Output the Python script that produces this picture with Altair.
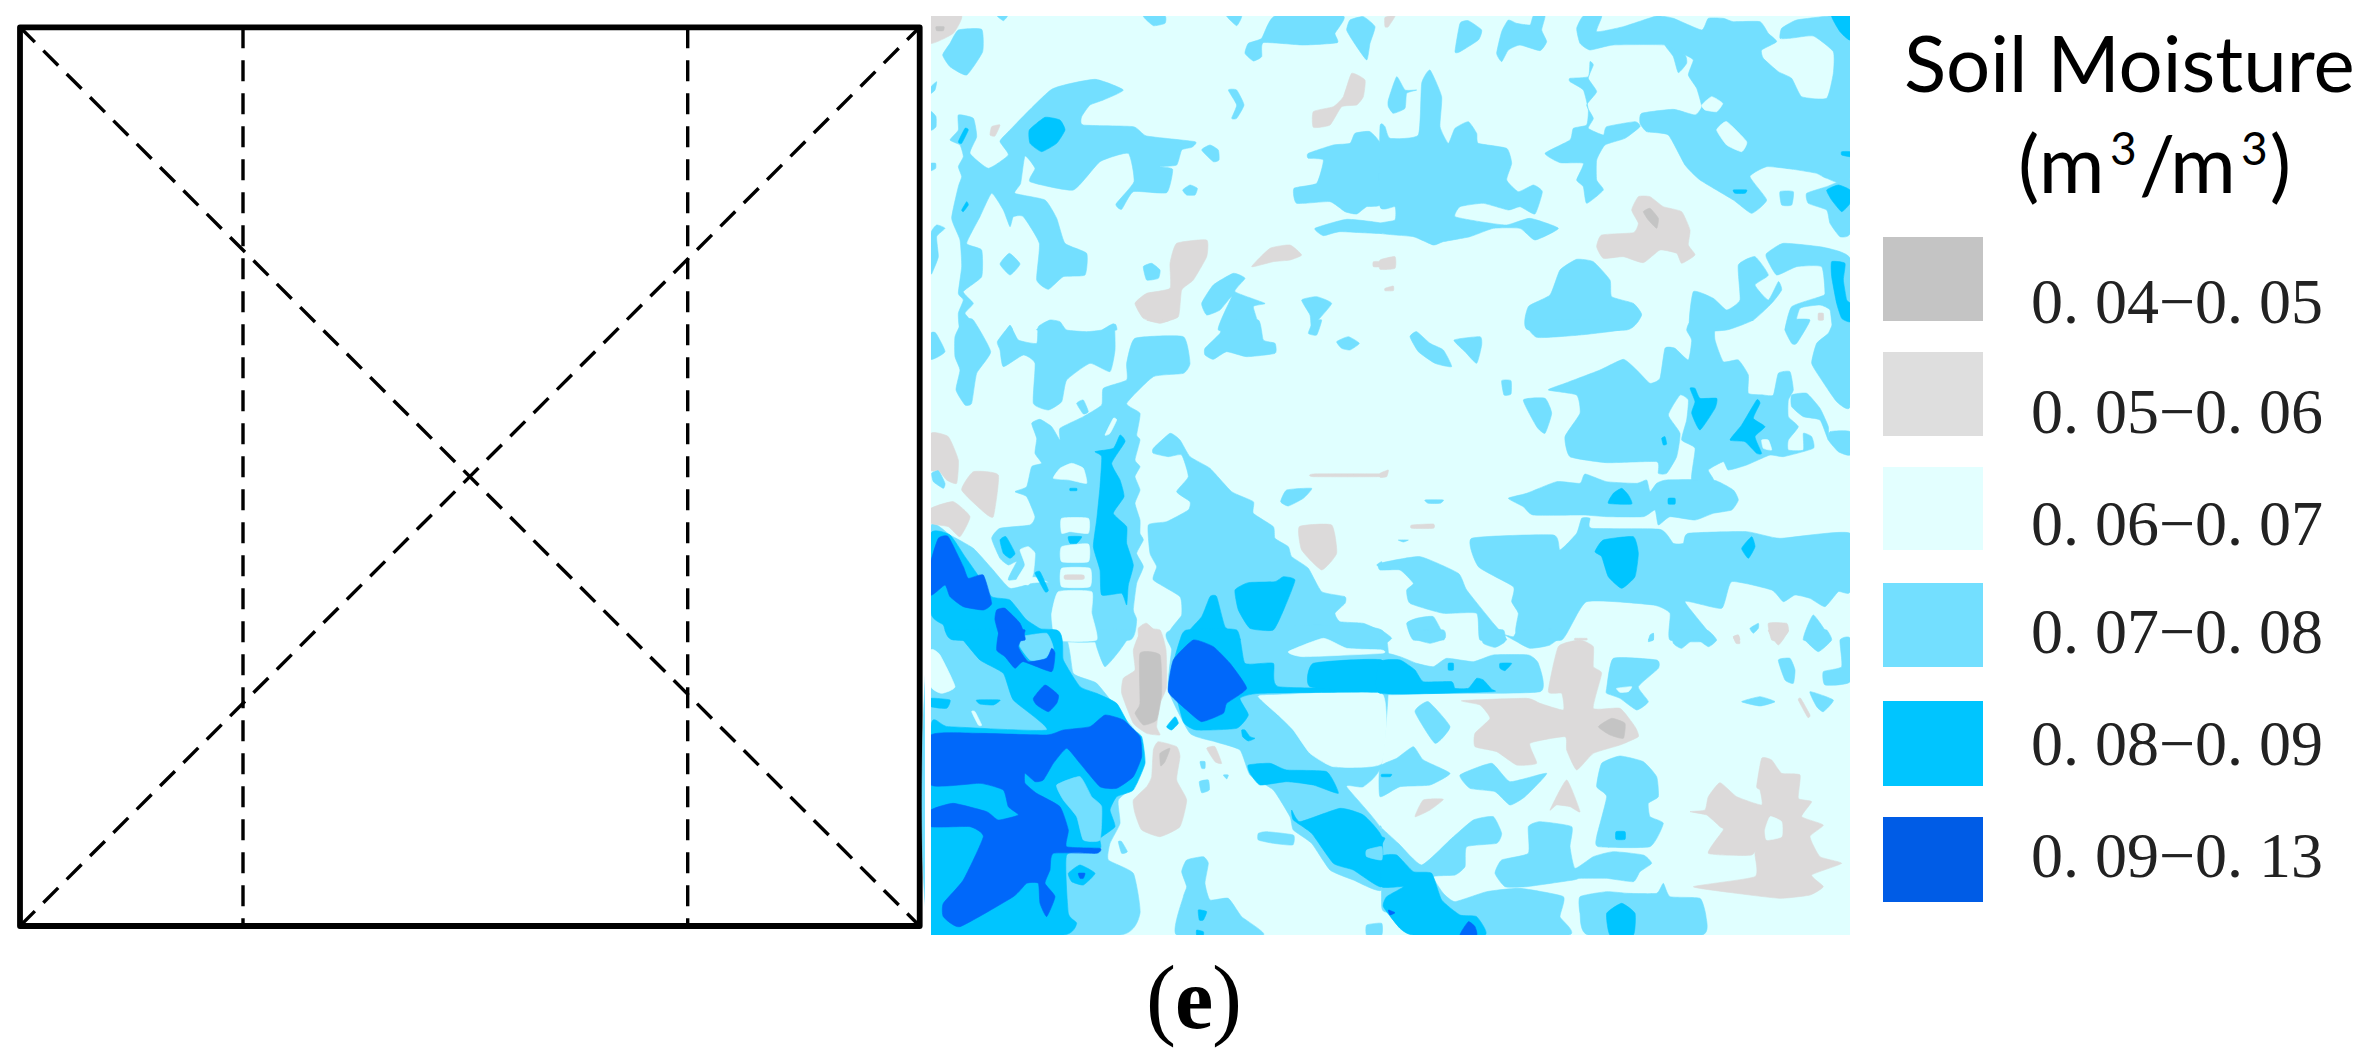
import altair as alt
import pandas as pd

# ---- legend / labels ----
CLASS_LABELS = ["0. 04\u22120. 05", "0. 05\u22120. 06", "0. 06\u22120. 07", "0. 07\u22120. 08", "0. 08\u22120. 09", "0. 09\u22120. 13"]
LEGEND_COLORS = ["#c4c4c4", "#dedede", "#e3ffff", "#73dfff", "#00c5ff", "#005ce6"]
SWATCH_TOP = [237, 352, 467, 583, 701, 817]
SWATCH_BOTTOM = [321, 436, 550, 667, 786, 902]
LABEL_BASE = [323, 433, 545, 653, 765, 877]

LAYER_COLORS = {"L": "#73dfff", "W": "#e0ffff", "M": "#00c5ff", "L2": "#73dfff", "D": "#0068fa",
                "G": "#dcdada", "K": "#c4c4c4", "W2": "#e0ffff"}

# ---- contour regions, traced per map tile (tile-local units: 1/3 px) ----
TILE_A = (920, 10, {
 "L": [
  [(115,60),(185,58),(188,125),(140,195),(90,170),(68,135),(90,100)],
  [(232,18),(262,18),(250,32)],
  [(670,18),(735,18),(735,40),(700,47)],
  [(920,18),(965,18),(950,47)],
  [(1065,18),(1270,18),(1245,70),(1252,98),(1150,105),(1030,98),(1025,140),(1000,153),(975,130),(985,100),(1025,85)],
  [(1290,30),(1330,20),(1365,50),(1350,100),(1340,150),(1300,95),(1280,60)],
  [(33,230),(50,215),(45,240),(33,250)],
  [(33,305),(48,320),(48,350),(33,360)],
  [(33,460),(47,460),(47,475),(33,482)],
  [(395,238),(525,208),(610,240),(550,270),(510,285),(485,320),(490,345),(640,350),(680,378),(825,395),(815,412),(785,420),(770,465),(720,470),(758,478),(740,548),(640,545),(605,598),(588,582),(642,515),(625,430),(540,455),(460,540),(330,515),(345,475),(315,438),(302,520),(285,550),(375,570),(410,625),(435,700),(500,730),(495,795),(430,800),(385,838),(350,810),(358,700),(310,620),(280,620),(270,650),(250,600),(215,550),(180,620),(140,700),(185,720),(185,800),(130,845),(160,880),(135,910),(165,945),(160,960),(120,960),(115,910),(130,870),(115,850),(125,770),(120,690),(95,625),(115,530),(125,500),(115,470),(130,440),(120,405),(90,390),(115,360),(115,315),(160,325),(170,380),(150,430),(205,475),(265,435),(240,395),(260,370)],
  [(845,420),(870,405),(895,420),(897,450),(880,455)],
  [(788,540),(810,525),(832,535),(825,555),(800,555)],
  [(925,240),(950,240),(972,285),(950,325),(935,325),(950,285)],
  [(1165,430),(1240,405),(1290,400),(1305,370),(1350,365),(1380,410),(1380,580),(1340,590),(1310,612),(1275,605),(1230,575),(1130,580),(1122,535),(1190,520),(1210,450),(1165,445)],
  [(1185,655),(1280,628),(1380,640),(1380,670),(1260,665),(1210,677)],
  [(33,670),(50,645),(75,655),(50,680),(55,740),(40,780),(33,790)],
  [(240,762),(268,730),(300,762),(270,795)],
  [(670,770),(695,760),(720,780),(715,805),(680,810)],
  [(845,880),(880,825),(940,790),(975,805),(945,845),(1035,880),(1000,890),(1015,960),(895,960),(935,860),(900,900),(860,915)],
  [(1145,870),(1190,860),(1235,880),(1195,930),(1175,960),(1170,915)],
  [(350,960),(385,935),(430,960)],
  [(550,960),(585,942),(590,960)],
  [(260,960),(270,945),(278,960)],
 ],
 "M": [
  [(375,322),(420,330),(435,360),(410,400),(365,425),(330,400),(328,360)],
  [(135,355),(145,360),(125,400),(115,395)],
  [(140,575),(145,585),(130,605),(125,600)],
 ],
 "G": [
  [(33,18),(125,18),(100,70),(33,100)],
  [(215,350),(240,345),(225,378),(210,375)],
  [(1180,305),(1240,290),(1270,260),(1295,190),(1335,210),(1330,260),(1310,285),(1265,290),(1230,345),(1180,352)],
  [(770,700),(860,690),(860,740),(820,810),(785,840),(775,920),(720,938),(670,925),(645,880),(680,850),(750,835),(750,760)],
  [(995,770),(1050,715),(1110,705),(1145,735),(1110,750),(1060,755)],
  [(1360,755),(1380,755),(1380,770),(1360,770)],
 ],
 "K": [[(48,50),(72,50),(70,62),(50,62)]],
})

TILE_B = (1380, 10, {
 "L": [
  [(225,125),(240,40),(265,32),(305,60),(295,90),(240,125)],
  [(350,130),(365,65),(385,30),(410,40),(450,45),(460,18),(495,18),(485,60),(500,95),(480,122),(420,105),(385,120),(365,155)],
  [(590,55),(610,18),(665,18),(650,65),(730,50),(830,18),(880,25),(965,60),(985,25),(1030,25),(1060,35),(1140,35),(1165,70),(1190,95),(1145,120),(1150,145),(1195,185),(1235,205),(1265,260),(1340,265),(1360,190),(1360,125),(1300,78),(1230,85),(1200,85),(1205,55),(1250,30),(1350,18),(1410,18),(1410,505),(1340,505),(1310,490),(1240,478),(1160,470),(1110,500),(1160,570),(1115,610),(1060,570),(960,510),(915,465),(865,375),(800,365),(780,340),(785,310),(880,298),(945,315),(965,290),(950,235),(925,195),(940,150),(915,135),(885,130),(855,105),(700,105),(630,120),(600,100)],
  [(855,105),(915,135),(920,160),(895,188),(880,140)],
  [(1200,545),(1240,545),(1235,585),(1205,585)],
  [(1280,550),(1340,530),(1410,510),(1410,670),(1380,680),(1350,640),(1340,600),(1285,580)],
  [(570,205),(625,200),(630,155),(640,165),(625,205),(650,245),(620,285),(640,325),(625,355),(670,375),(680,350),(765,335),(780,350),(735,385),(675,405),(650,450),(650,510),(670,540),(620,580),(610,530),(590,510),(610,460),(540,458),(495,430),(570,390),(580,355),(620,345),(625,300),(610,240),(570,215)],
  [(0,350),(15,350),(30,385),(115,375),(125,220),(150,180),(185,260),(180,350),(205,400),(225,355),(265,335),(290,370),(295,400),(380,415),(395,460),(380,510),(415,545),(460,525),(487,545),(465,612),(420,590),(385,600),(310,580),(240,590),(225,620),(300,635),(380,645),(450,625),(535,655),(465,690),(420,655),(340,655),(270,680),(190,695),(160,705),(100,680),(0,670),(0,640),(45,630),(45,590),(0,590)],
  [(25,270),(50,200),(75,240),(110,240),(80,250),(75,295),(40,310),(25,290)],
  [(445,960),(445,890),(510,855),(540,780),(590,748),(640,755),(690,810),(695,860),(760,880),(785,915),(740,960)],
  [(930,960),(940,845),(1000,865),(1040,900),(1080,870),(1075,765),(1125,740),(1165,795),(1125,825),(1165,870),(1195,815),(1205,840),(1175,880),(1120,930),(1040,960)],
  [(1160,730),(1210,700),(1330,712),(1410,745),(1410,960),(1360,960),(1350,900),(1320,885),(1260,895),(1240,960),(1215,960),(1235,890),(1320,860),(1335,850),(1325,770),(1250,770),(1190,795),(1160,745)],
 ],
 "W": [
  [(965,285),(995,260),(1028,280),(1010,305),(975,300)],
  [(1010,360),(1040,335),(1100,395),(1085,425),(1040,405)],
 ],
 "M": [
  [(1355,18),(1410,18),(1410,90),(1380,65)],
  [(1385,425),(1410,425),(1410,440),(1385,435)],
  [(1060,540),(1100,540),(1095,550),(1065,550)],
  [(1340,540),(1375,525),(1410,540),(1410,580),(1385,605),(1355,570)],
  [(1355,755),(1395,760),(1390,810),(1400,870),(1410,880),(1410,935),(1385,925),(1370,880),(1355,800)],
 ],
 "G": [
  [(755,600),(775,560),(810,560),(850,590),(905,605),(930,660),(925,705),(945,735),(905,760),(890,730),(840,720),(790,758),(730,740),(670,745),(650,710),(665,675),(760,668),(775,640)],
  [(0,750),(45,740),(45,775),(0,778)],
  [(15,835),(40,828),(40,842),(15,842)],
  [(15,22),(45,18),(25,50),(15,50)],
  [(1315,910),(1330,910),(1330,930),(1315,930)],
 ],
 "K": [[(790,605),(810,595),(835,625),(830,655),(805,630)]],
})

TILE_C = (920, 320, {
 "L": [
  [(33,40),(48,40),(75,95),(33,118)],
  [(105,50),(130,0),(160,0),(212,95),(170,160),(155,250),(135,255),(108,210),(120,150),(105,110)],
  [(232,65),(270,18),(295,60),(350,70),(355,20),(390,0),(420,5),(440,30),(500,35),(545,30),(582,12),(585,90),(570,155),(510,130),(440,180),(425,245),(385,270),(340,250),(345,130),(310,105),(250,140),(240,90)],
  [(470,250),(490,240),(505,275),(490,282)],
  [(33,618),(90,645),(160,685),(215,745),(270,805),(340,790),(420,790),(395,885),(410,960),(33,960)],
  [(335,310),(360,298),(395,320),(420,360),(420,325),(490,290),(545,255),(550,205),(620,180),(620,130),(645,55),(790,50),(810,130),(790,160),(700,170),(620,250),(660,280),(650,345),(660,360),(645,420),(660,440),(645,470),(660,510),(645,550),(660,600),(660,640),(670,660),(650,700),(670,740),(650,790),(640,870),(650,900),(630,960),(410,960),(400,800),(345,770),(265,780),(290,725),(265,735),(240,715),(215,655),(240,625),(330,615),(345,590),(320,530),(285,515),(320,500),(335,440),(365,430),(345,400),(350,355)],
  [(700,385),(750,340),(780,360),(810,410),(870,445),(935,515),(1000,545),(1000,580),(1060,620),(1065,655),(1105,680),(1115,710),(1165,745),(1205,815),(1275,830),(1275,850),(1245,880),(1260,905),(1330,910),(1380,935),(1380,960),(760,960),(785,885),(780,830),(700,780),(710,740),(690,700),(685,615),(740,605),(805,570),(810,545),(770,515),(805,470),(785,405),(745,410),(700,400)],
  [(855,85),(900,40),(915,0),(1015,0),(1030,60),(1065,70),(1065,100),(980,110),(920,95),(880,118),(855,105)],
  [(1165,40),(1180,5),(1205,0),(1190,45)],
  [(1250,65),(1285,50),(1318,70),(1290,90),(1265,85)],
  [(1082,545),(1100,510),(1175,505),(1150,535),(1105,558)],
  [(35,460),(55,450),(75,490),(70,505),(40,485)],
  [(1370,735),(1380,725),(1380,745)],
 ],
 "W": [
  [(425,595),(505,595),(505,640),(450,635),(425,640)],
  [(425,680),(505,672),(505,725),(425,725)],
  [(425,745),(510,745),(510,800),(425,800)],
  [(415,815),(515,815),(515,880),(530,960),(410,960),(395,885)],
  [(400,475),(420,445),(455,430),(490,445),(500,490),(450,480)],
  [(555,345),(580,295),(590,300),(570,340)],
  [(300,690),(325,680),(345,700),(340,760),(325,795),(290,780),(315,735)],
 ],
 "M": [
  [(525,395),(580,385),(600,345),(615,365),(575,430),(600,480),(612,530),(580,580),(620,620),(620,670),(640,735),(625,795),(620,855),(605,820),(545,825),(540,750),(520,680),(530,600),(540,500),(545,410)],
  [(240,660),(258,650),(285,700),(270,715),(250,700)],
  [(345,760),(360,755),(385,810),(375,815)],
  [(450,505),(470,505),(470,512),(450,512)],
  [(445,650),(485,650),(470,670),(450,670)],
  [(33,640),(90,645),(135,710),(170,760),(215,830),(270,840),(320,900),(390,945),(395,960),(100,960),(70,915),(33,880)],
  [(945,810),(985,788),(1065,785),(1090,770),(1125,780),(1095,860),(1060,930),(990,925),(955,870)],
  [(790,960),(845,890),(870,830),(890,830),(915,920),(960,960)],
 ],
 "D": [
  [(33,725),(55,655),(85,650),(130,740),(145,775),(190,765),(215,850),(190,870),(130,860),(90,830),(75,795),(33,825)],
  [(230,870),(255,865),(300,910),(315,960),(245,960),(225,900)],
 ],
 "G": [
  [(435,765),(490,765),(490,778),(435,778)],
  [(33,340),(85,350),(115,420),(110,490),(80,480),(55,450),(33,450)],
  [(33,565),(100,545),(150,590),(120,650),(85,620),(33,610)],
  [(125,510),(160,455),(235,465),(220,590),(190,575)],
  [(1138,620),(1235,615),(1250,700),(1205,750),(1145,690)],
  [(1180,462),(1380,462),(1380,470),(1180,470)],
  [(655,925),(680,910),(730,960),(660,960)],
  [(680,0),(750,0),(720,10)],
 ],
})

TILE_D = (1380, 320, {
 "L": [
  [(445,0),(770,0),(720,30),(600,45),(470,52)],
  [(90,50),(110,35),(150,70),(190,90),(215,140),(165,130),(115,95)],
  [(222,60),(300,50),(305,75),(290,130),(255,95)],
  [(365,182),(393,182),(393,222),(372,225)],
  [(555,350),(600,280),(590,225),(505,210),(555,190),(660,150),(730,118),(770,150),(810,190),(840,175),(855,85),(885,85),(925,120),(935,60),(920,30),(940,0),(1120,0),(1010,20),(1005,60),(1030,125),(1075,120),(1105,165),(1105,220),(1150,225),(1180,225),(1195,160),(1230,155),(1240,210),(1225,240),(1225,290),(1255,320),(1225,360),(1225,390),(1270,390),(1270,340),(1295,350),(1300,385),(1210,410),(1170,405),(1100,435),(1045,450),(1030,425),(985,450),(1000,480),(935,480),(945,385),(905,360),(920,300),(925,240),(900,225),(865,285),(900,340),(890,410),(860,460),(835,460),(830,425),(680,428),(570,410)],
  [(385,535),(440,520),(530,485),(600,490),(615,462),(680,485),(770,490),(800,480),(810,515),(830,490),(860,480),(1000,480),(1060,510),(1075,540),(1055,570),(1000,580),(945,600),(870,590),(835,615),(825,570),(790,590),(680,590),(610,585),(460,585),(430,560)],
  [(430,240),(495,235),(515,280),(495,340),(470,320)],
  [(1215,30),(1230,0),(1290,0),(1250,70),(1235,70)],
  [(1295,130),(1310,70),(1345,40),(1365,0),(1410,0),(1410,260),(1370,245),(1325,180)],
  [(1235,225),(1280,220),(1320,265),(1345,320),(1345,360),(1350,335),(1410,335),(1410,405),(1375,395),(1345,360),(1320,300),(1270,290),(1235,260)],
  [(275,655),(520,645),(540,690),(590,640),(605,595),(630,595),(635,625),(840,628),(880,670),(910,670),(925,640),(1100,635),(1200,655),(1410,640),(1410,815),(1375,815),(1335,860),(1290,835),(1245,825),(1210,845),(1175,810),(1055,785),(1025,865),(915,845),(1000,960),(870,960),(870,880),(820,855),(620,845),(545,960),(410,945),(415,880),(395,845),(400,800),(295,740)],
  [(0,730),(120,710),(235,760),(260,810),(340,910),(380,960),(300,960),(290,880),(190,880),(90,850),(80,810),(100,790),(60,750),(0,750)],
  [(80,910),(110,895),(160,890),(190,945),(190,960),(100,960)],
  [(1270,960),(1300,885),(1350,960)],
  [(1110,925),(1135,910),(1135,925),(1120,940)],
  [(805,960),(820,940),(820,960)],
  [(135,540),(190,540),(180,550),(145,550)],
  [(55,660),(85,660),(70,666)],
 ],
 "W": [[(1145,360),(1165,360),(1175,390),(1150,385)]],
 "M": [
  [(930,205),(945,205),(960,235),(1010,235),(1005,265),(960,330),(935,280),(945,245)],
  [(1050,360),(1085,315),(1130,240),(1140,250),(1120,295),(1155,320),(1125,350),(1145,400),(1130,400),(1095,365)],
  [(685,550),(700,520),(725,505),(745,525),(755,552)],
  [(865,535),(885,535),(885,552),(865,552)],
  [(845,355),(855,350),(860,372),(850,375)],
  [(645,695),(670,660),(760,650),(775,700),(765,770),(725,805),(685,770),(665,710)],
  [(1085,685),(1115,650),(1125,680),(1105,715)],
 ],
 "G": [
  [(1165,910),(1220,910),(1225,935),(1200,960),(1175,960)],
  [(1060,950),(1075,945),(1080,960),(1065,960)],
  [(0,460),(25,450),(20,470),(0,472)],
  [(95,615),(160,612),(160,625),(95,625)],
  [(585,955),(620,955),(620,960),(585,960)],
 ],
})

TILE_E = (920, 630, {
 "L": [
  [(33,0),(420,0),(460,130),(530,160),(610,260),(650,310),(660,400),(650,460),(595,510),(600,580),(570,640),(565,690),(640,730),(660,850),(600,915),(33,915)],
  [(525,0),(635,0),(600,60),(555,110),(530,50)],
  [(760,0),(1380,0),(1380,400),(1330,470),(1280,470),(1380,600),(1380,780),(1300,750),(1230,720),(1175,640),(1120,600),(1110,560),(1060,480),(990,435),(960,360),(885,335),(810,310),(745,180),(755,60)],
  [(1015,610),(1040,605),(1120,615),(1118,645),(1060,640),(1015,630)],
  [(785,725),(800,690),(850,680),(865,700),(855,760),(870,810),(925,805),(965,860),(1030,915),(770,915),(790,800),(800,770)],
  [(1340,885),(1380,880),(1380,915),(1340,915)],
  [(595,635),(605,635),(622,665),(605,670)],
  [(840,395),(855,395),(855,415),(845,415)],
  [(838,455),(865,450),(868,480),(845,488)],
  [(910,435),(925,435),(920,447)],
 ],
 "W": [
  [(33,60),(60,75),(105,170),(65,190),(33,170)],
  [(155,245),(165,245),(185,285),(175,285)],
  [(1105,65),(1210,25),(1280,55),(1380,60),(1380,70),(1150,80)],
  [(1015,200),(1060,195),(1380,190),(1380,400),(1240,410),(1170,370),(1120,300),(1080,260)],
 ],
 "M": [
  [(80,0),(410,0),(430,90),(480,170),(530,190),(590,220),(630,290),(665,320),(675,400),(640,480),(590,500),(570,540),(585,590),(540,625),(540,655),(440,675),(445,850),(470,880),(430,915),(33,915),(33,290),(85,290),(380,300),(280,210),(250,130),(180,90),(120,20)],
  [(33,205),(90,210),(80,235),(33,230)],
  [(170,210),(240,210),(220,225),(180,222)],
  [(445,730),(480,705),(525,730),(490,765),(455,755)],
  [(755,130),(780,30),(800,0),(950,0),(975,100),(1060,100),(1075,170),(1380,175),(1380,185),(1020,190),(960,205),(985,255),(950,295),(830,300),(790,275)],
  [(1180,100),(1380,90),(1380,185),(1170,170)],
  [(740,290),(765,260),(775,280),(755,300)],
  [(985,405),(1050,400),(1100,420),(1220,425),(1255,490),(1180,465),(1100,455),(1020,465),(990,430)],
  [(1115,540),(1140,575),(1260,535),(1330,555),(1380,620),(1380,770),(1300,720),(1240,700),(1175,610),(1120,570)],
  [(965,300),(975,300),(990,320),(1005,325),(985,333),(968,320)],
  [(835,840),(860,845),(850,870),(838,870)],
  [(830,900),(850,905),(850,915),(830,915)],
 ],
 "L2": [
  [(410,465),(480,440),(515,500),(545,530),(540,630),(490,630),(470,560),(430,510)],
  [(305,20),(380,10),(400,55),(370,90),(330,90),(300,50)],
  [(1340,660),(1380,650),(1380,690),(1340,680)],
 ],
 "D": [
  [(33,315),(180,310),(380,315),(430,300),(510,290),(555,255),(610,270),(660,320),(665,380),(640,440),(590,475),(540,470),(480,400),(440,355),(400,400),(370,450),(345,455),(315,430),(315,460),(350,490),(420,530),(445,600),(440,650),(540,655),(530,670),(400,670),(390,720),(375,760),(405,800),(380,860),(360,820),(355,760),(320,760),(280,800),(120,890),(70,860),(70,820),(130,750),(190,620),(150,590),(33,590),(33,540),(100,520),(200,545),(235,570),(295,555),(265,530),(250,480),(180,460),(33,465)],
  [(240,0),(315,0),(295,50),(325,95),(380,85),(395,55),(405,70),(395,125),(310,95),(285,115),(255,80),(230,60)],
  [(340,205),(375,165),(415,195),(410,220),(385,245),(350,225)],
  [(760,90),(820,30),(880,50),(930,100),(980,175),(920,220),(910,250),(845,275),(800,240),(745,185)],
  [(475,730),(495,730),(490,745),(480,745)],
 ],
 "G": [
  [(665,0),(720,0),(738,60),(740,170),(720,220),(710,290),(720,315),(680,310),(640,280),(605,190),(610,145),(645,120),(640,60)],
  [(715,335),(770,350),(780,380),(770,450),(800,510),(780,590),(720,620),(665,600),(645,550),(640,510),(680,470),(695,440),(700,360)],
  [(860,355),(885,350),(905,400),(885,395)],
 ],
 "K": [
  [(660,70),(720,75),(725,190),(710,270),(670,285),(645,250),(660,220)],
  [(720,370),(750,355),(735,395),(722,408)],
 ],
})

TILE_F = (1380, 630, {
 "L": [
  [(90,0),(190,0),(195,25),(150,40),(100,25)],
  [(0,0),(35,25),(0,50)],
  [(300,0),(370,0),(375,35),(345,52),(310,40)],
  [(375,15),(400,20),(420,0),(560,0),(510,45),(450,55),(410,35)],
  [(880,0),(980,0),(1010,30),(985,50),(945,25),(905,55),(880,40)],
  [(1290,25),(1310,0),(1340,0),(1355,30),(1315,65),(1275,30)],
  [(810,15),(820,10),(820,30),(805,35)],
  [(1195,90),(1230,85),(1245,120),(1240,160),(1215,150)],
  [(1380,30),(1410,25),(1410,155),(1335,165),(1330,125),(1385,110)],
  [(1085,215),(1140,200),(1185,215),(1140,228)],
  [(1290,185),(1360,210),(1330,245),(1310,230)],
  [(700,85),(830,90),(835,115),(775,170),(805,215),(770,240),(720,205),(680,190),(680,175)],
  [(0,70),(60,80),(110,100),(160,110),(200,85),(280,95),(340,75),(445,75),(475,100),(480,185),(150,190),(0,190)],
  [(105,245),(145,215),(210,290),(165,340)],
  [(0,410),(50,385),(100,350),(130,390),(210,430),(150,465),(60,470),(0,500)],
  [(240,435),(335,400),(390,455),(500,430),(435,500),(390,525),(345,485),(270,475)],
  [(650,470),(665,400),(720,378),(790,395),(830,440),(835,500),(805,520),(810,560),(850,580),(810,650),(655,650),(650,620),(680,500)],
  [(0,590),(55,640),(125,705),(215,625),(280,570),(340,560),(365,610),(350,640),(260,650),(255,710),(225,735),(160,740),(190,790),(225,815),(320,785),(420,775),(550,800),(540,860),(565,915),(100,915),(25,850),(5,830),(5,600)],
  [(345,730),(365,690),(445,670),(445,590),(480,575),(575,590),(570,650),(585,715),(640,680),(700,665),(790,675),(815,700),(780,725),(760,755),(680,745),(600,745),(580,750),(440,770),(375,770)],
  [(600,800),(680,785),(745,790),(830,790),(850,760),(870,800),(960,805),(978,860),(965,915),(625,915),(600,850)],
 ],
 "W": [[(710,175),(755,170),(745,185),(720,187)]],
 "M": [
  [(0,95),(60,90),(105,120),(130,155),(215,155),(225,175),(265,175),(290,145),(310,150),(335,178),(335,185),(0,190)],
  [(205,100),(220,100),(220,120),(205,120)],
  [(360,100),(395,100),(375,122),(360,115)],
  [(5,433),(35,433),(30,440),(5,440)],
  [(708,605),(735,605),(735,628),(708,628)],
  [(5,680),(50,675),(100,725),(155,730),(185,810),(240,855),(290,860),(315,915),(100,915),(60,895),(10,830),(20,800),(70,770),(5,770)],
  [(0,620),(15,625),(0,650)],
  [(680,850),(725,820),(765,850),(760,915),(690,915)],
 ],
 "D": [
  [(240,915),(265,875),(285,890),(290,915)],
  [(25,840),(45,848),(30,855)],
 ],
 "G": [
  [(505,185),(535,50),(600,30),(640,50),(640,110),(665,130),(640,235),(720,235),(765,290),(775,320),(720,345),(640,370),(590,420),(560,360),(555,320),(450,340),(470,400),(410,405),(350,365),(285,350),(285,310),(330,265),(300,225),(245,212),(440,205),(480,220),(550,240),(545,190)],
  [(510,540),(560,450),(600,545),(570,530),(530,525)],
  [(105,560),(130,510),(190,508),(150,540)],
  [(1255,210),(1262,205),(1290,255),(1283,262)],
  [(1060,20),(1075,15),(1080,40),(1068,40)],
  [(1165,0),(1225,0),(1195,45)],
  [(930,545),(975,540),(985,500),(1020,458),(1070,500),(1145,525),(1140,480),(1130,470),(1145,385),(1175,390),(1205,430),(1260,435),(1255,505),(1295,515),(1265,560),(1330,585),(1290,620),(1320,680),(1385,700),(1295,735),(1330,770),(1290,795),(1200,805),(1070,790),(940,770),(1125,740),(1125,670),(1150,625),(1115,675),(985,670),(1030,600),(1020,590),(980,555)],
 ],
 "K": [[(655,290),(695,265),(735,280),(730,325),(690,315)]],
 "W2": [[(1155,600),(1170,560),(1205,575),(1205,620),(1160,630)]],
})

TILES = [TILE_A, TILE_B, TILE_C, TILE_D, TILE_E, TILE_F]
LAYER_ORDER = ["L", "W", "M", "L2", "D", "G", "K", "W2"]

# map / frame extents in picture units
MAP_X = [931, 1850]
MAP_Y = [16, 935]
FRAME_X = [20, 919.7]
FRAME_Y = [27.3, 926]
DIVIDERS_X = [243, 687.7]

# unit label pieces: text, left edge, baseline, size, align
UNIT_PIECES = [("(m", 2018, 193, 80, "left"), ("3", 2110, 165, 46, "left"), ("/", 2139, 193, 80, "left"),
               ("m", 2170, 193, 80, "left"), ("3", 2241, 165, 46, "left"), (")", 2291, 193, 80, "right")]

X_SCALE = alt.Scale(domain=[8, 2360], nice=False, zero=False)
Y_SCALE = alt.Scale(domain=[1051, 8], nice=False, zero=False)
X = alt.X("x:Q", scale=X_SCALE, axis=None)
Y = alt.Y("y:Q", scale=Y_SCALE, axis=None)

rows = []
pid = 0
for ox, oy, layers in TILES:
    for key, polys in layers.items():
        for poly in polys:
            pid += 1
            for i, (zx, zy) in enumerate(poly):
                # tiles of the left column overlap the right column slightly, so no seam shows
                sx = zx + 5 if (ox == 920 and zx == 1380) else zx
                rows.append({"x": ox + sx / 3, "y": oy + zy / 3, "poly": pid, "i": i, "layer": key})
poly_df = pd.DataFrame(rows)

charts = []
dash_rows = []
seg = [
    [(FRAME_X[0], FRAME_Y[0]), (FRAME_X[1], FRAME_Y[1])],
    [(FRAME_X[0], FRAME_Y[1]), (FRAME_X[1], FRAME_Y[0])],
    [(DIVIDERS_X[0], FRAME_Y[0]), (DIVIDERS_X[0], FRAME_Y[1])],
    [(DIVIDERS_X[1], FRAME_Y[0]), (DIVIDERS_X[1], FRAME_Y[1])],
]
for s, pts in enumerate(seg):
    for i, (a, b) in enumerate(pts):
        dash_rows.append({"x": a, "y": b, "seg": s, "i": i})
charts.append(alt.Chart(pd.DataFrame(dash_rows)).mark_line(color="black", strokeWidth=3.4, strokeDash=[21, 12], interpolate="linear").encode(
    x=X, y=Y, detail="seg:N", order="i:Q"))
frame_pts = [(FRAME_X[0], FRAME_Y[0]), (FRAME_X[1], FRAME_Y[0]), (FRAME_X[1], FRAME_Y[1]), (FRAME_X[0], FRAME_Y[1])]
charts.append(alt.Chart(pd.DataFrame([{"x": a, "y": b, "i": i} for i, (a, b) in enumerate(frame_pts)])).mark_line(
    color="black", strokeWidth=5.8, interpolate="linear-closed", strokeJoin="round").encode(x=X, y=Y, order="i:Q"))

charts.append(alt.Chart(pd.DataFrame([{"x": MAP_X[0], "x2": MAP_X[1], "y": MAP_Y[0], "y2": MAP_Y[1]}])).mark_rect(color=LAYER_COLORS["W"]).encode(
    x=X, x2="x2:Q", y=Y, y2="y2:Q"))

for key in LAYER_ORDER:
    sub = poly_df[poly_df.layer == key]
    if len(sub):
        charts.append(alt.Chart(sub).mark_line(
            fill=LAYER_COLORS[key], stroke=LAYER_COLORS[key], strokeWidth=0.6,
            interpolate="cardinal-closed", tension=0.55
        ).encode(x=X, y=Y, detail="poly:N", order="i:Q"))

# the smoothed outlines may stray past the map edge: white strips keep it square
STRIPS = [(925, 931, 10, 975), (1850, 1870, 8, 975), (925, 1870, 8, 16), (925, 1870, 935, 962)]
charts.append(alt.Chart(pd.DataFrame(STRIPS, columns=["x", "x2", "y", "y2"])).mark_rect(color="white").encode(
    x=X, x2="x2:Q", y=Y, y2="y2:Q"))

leg = pd.DataFrame({"x": [1883] * 6, "x2": [1983] * 6, "y": SWATCH_TOP, "y2": SWATCH_BOTTOM, "c": LEGEND_COLORS})
charts.append(alt.Chart(leg).mark_rect().encode(x=X, x2="x2:Q", y=Y, y2="y2:Q", color=alt.Color("c:N", scale=None)))
labels = pd.DataFrame({"x": [2031] * 6, "y": LABEL_BASE, "t": CLASS_LABELS})
charts.append(alt.Chart(labels).mark_text(align="left", baseline="alphabetic", font="Liberation Serif", fontSize=64, color="#222222").encode(
    x=X, y=Y, text="t:N"))

title_df = pd.DataFrame({"x": [1904], "y": [92], "t": ["Soil Moisture"]})
charts.append(alt.Chart(title_df).mark_text(align="left", baseline="alphabetic", font="Lato", fontSize=78, color="black").encode(x=X, y=Y, text="t:N"))
for t, px, py, size, al in UNIT_PIECES:
    charts.append(alt.Chart(pd.DataFrame({"x": [px], "y": [py], "t": [t]})).mark_text(
        align=al, baseline="alphabetic", font="Lato", fontSize=size, color="black").encode(x=X, y=Y, text="t:N"))

charts.append(alt.Chart(pd.DataFrame({"x": [1194], "y": [1028], "t": ["e"]})).mark_text(
    align="center", baseline="alphabetic", font="Liberation Serif", fontWeight="bold", fontSize=86, color="black").encode(x=X, y=Y, text="t:N"))
charts.append(alt.Chart(pd.DataFrame({"x": [1146], "y": [1028], "t": ["("]})).mark_text(
    align="left", baseline="alphabetic", font="Liberation Serif", fontSize=90, color="black").encode(x=X, y=Y, text="t:N"))
charts.append(alt.Chart(pd.DataFrame({"x": [1242], "y": [1028], "t": [")"]})).mark_text(
    align="right", baseline="alphabetic", font="Liberation Serif", fontSize=90, color="black").encode(x=X, y=Y, text="t:N"))

chart = alt.layer(*charts).properties(
    width=2352, height=1043, padding=0, autosize=alt.AutoSizeParams(type="none"),
    background="white"
).configure_view(stroke=None)

chart.save("out.html", embed_options={"renderer": "svg", "actions": False})
